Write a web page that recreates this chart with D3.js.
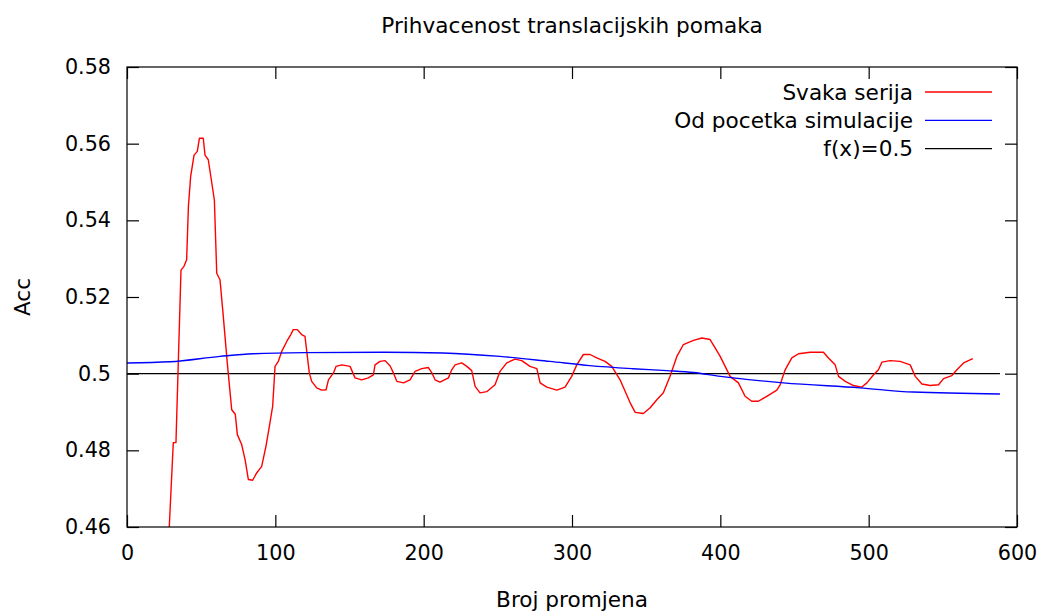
<!DOCTYPE html>
<html><head><meta charset="utf-8">
<script src="https://cdn.jsdelivr.net/npm/d3@7"></script>
<style>
body{margin:0;background:#fff;}
text{font-family:"DejaVu Sans",sans-serif;fill:#000;}
</style></head>
<body><svg id="c" width="1042" height="612"></svg>
<script>
const title = "Prihvacenost translacijskih pomaka";
const xLabel = "Broj promjena";
const yLabel = "Acc";
const xTicks = [0,100,200,300,400,500,600];
const yTicks = [0.46,0.48,0.5,0.52,0.54,0.56,0.58];
const legendNames = ["Svaka serija","Od pocetka simulacije","f(x)=0.5"];

const redX = [28.5,31.2,33,36.4,38.4,40.2,41.4,42.9,45.2,47.4,48.8,51.4,52.6,54.8,58.9,60.5,62.7,64.9,67.6,70.6,73,74.4,77.3,79.6,81.8,84.7,87.4,90.8,93.7,96,98.2,99.8,102,104.3,107.7,110.4,112.1,114.8,117.7,120,122.9,124.5,127.9,131.3,134.2,135.8,139.2,140.9,144.7,150.4,153.7,158.2,162.7,166.1,167.2,170.6,174,177.4,179.6,181.9,186.4,190.8,194.2,198.7,203.2,205.4,207.7,211,216.7,218.9,221.2,225.7,229.1,232.4,234.7,238,242.5,248.1,251.5,256,261.6,266.1,271.7,276.3,278.5,283,289.8,295.3,299.8,303.2,307.7,312.2,316.7,322.3,326.8,332.4,339.2,342.6,348.1,352.7,357.2,361.6,366.1,370.7,375.1,381.9,387.5,393.1,396.5,399.9,406.6,412.2,416.7,421.2,425.7,431.3,438.1,440.3,443.7,448.2,452.7,460.6,469.5,472.9,477.4,479.7,484.2,489.8,495.4,498.8,503.3,506.6,508.9,514.5,521.2,528,531.4,535.9,541.5,547.1,550.5,556.1,559.5,564,570.2];
const redY = [0.46,0.482,0.482,0.527,0.528,0.5297,0.5436,0.5514,0.557,0.558,0.5614,0.5614,0.557,0.5558,0.5453,0.5262,0.5245,0.515,0.5028,0.4906,0.4894,0.4841,0.4815,0.4776,0.4724,0.4722,0.4741,0.4758,0.4811,0.4863,0.4915,0.5019,0.5032,0.5058,0.5084,0.5102,0.5115,0.5115,0.5102,0.5097,0.5002,0.498,0.4963,0.4957,0.4958,0.4984,0.5002,0.5019,0.5023,0.5019,0.4989,0.4984,0.4989,0.4997,0.5023,0.5032,0.5034,0.502,0.5002,0.498,0.4976,0.4984,0.5006,0.5013,0.5016,0.5003,0.4984,0.4978,0.4989,0.501,0.5023,0.5028,0.5019,0.5008,0.4967,0.495,0.4953,0.4971,0.5006,0.5028,0.5038,0.5034,0.5019,0.5013,0.4976,0.4965,0.4957,0.4965,0.4993,0.5023,0.505,0.505,0.5041,0.5032,0.5019,0.4984,0.4924,0.4899,0.4896,0.4911,0.4932,0.495,0.4993,0.5045,0.5076,0.5087,0.5093,0.5089,0.5067,0.5045,0.4993,0.4976,0.4941,0.4928,0.4928,0.4941,0.4957,0.4971,0.501,0.5041,0.5052,0.5056,0.5056,0.5041,0.5023,0.4993,0.498,0.4969,0.4965,0.4976,0.4997,0.501,0.503,0.5034,0.5032,0.5023,0.4993,0.4973,0.4969,0.4971,0.4987,0.4995,0.501,0.5028,0.5039];

const blueX = [0,29,62.7,85,120,174,213,251.5,285,312,341,364,382,400,408.8,442.5,494,530,588.5];
const blueY = [0.5028,0.5031,0.5045,0.5052,0.5055,0.5056,0.5054,0.5045,0.5032,0.5021,0.5013,0.5008,0.5003,0.4993,0.4989,0.4976,0.4963,0.4952,0.4947];

const constX = [0,588.5];
const constY = [0.5,0.5];

const svg = d3.select("#c");
const L=127,T=67,W=890,H=460;
const x = d3.scaleLinear().domain([0,600]).range([L,L+W]);
const y = d3.scaleLinear().domain([0.46,0.58]).range([T+H,T]);
const tickLen = 12;
const fsTick = 20.7, fsText = 21.6;

svg.append("defs").append("clipPath").attr("id","clip")
  .append("rect").attr("x",L).attr("y",T).attr("width",W).attr("height",H);

const fmtY = d => String(+d.toFixed(2));
const axB = svg.append("g").attr("transform",`translate(0,${T+H})`)
  .call(d3.axisBottom(x).tickValues(xTicks).tickSizeInner(-tickLen).tickSizeOuter(0).tickPadding(18).tickFormat(d3.format("d")));
const axT = svg.append("g").attr("transform",`translate(0,${T})`)
  .call(d3.axisTop(x).tickValues(xTicks).tickSizeInner(-tickLen).tickSizeOuter(0).tickFormat(""));
const axL = svg.append("g").attr("transform",`translate(${L},0)`)
  .call(d3.axisLeft(y).tickValues(yTicks).tickSizeInner(-tickLen).tickSizeOuter(0).tickPadding(16).tickFormat(fmtY));
const axR = svg.append("g").attr("transform",`translate(${L+W},0)`)
  .call(d3.axisRight(y).tickValues(yTicks).tickSizeInner(-tickLen).tickSizeOuter(0).tickFormat(""));
[axB,axT,axL,axR].forEach(a=>{
  a.select(".domain").remove();
  a.selectAll("line").attr("stroke","#000").attr("stroke-width",1.2);
  a.selectAll("text").attr("font-size",fsTick).attr("font-family","DejaVu Sans").attr("fill","#000");
});
axB.selectAll("text").attr("dy","0.71em");

const leg = svg.append("g");
const legColors = ["#ff0000","#0000ff","#000000"];
legendNames.forEach((n,i)=>{
  const yy = 92 + i*28.3;
  leg.append("text").attr("x",913).attr("y",yy).attr("dy","0.35em").attr("text-anchor","end").attr("font-size",fsText).text(n);
  leg.append("line").attr("x1",925).attr("x2",992).attr("y1",yy).attr("y2",yy)
    .attr("stroke",legColors[i]).attr("stroke-width",1.3);
});

const line = d3.line().x(d=>x(d[0])).y(d=>y(d[1]));
const g = svg.append("g").attr("clip-path","url(#clip)");
g.append("path").datum(constX.map((v,i)=>[v,constY[i]])).attr("d",line)
  .attr("fill","none").attr("stroke","#000").attr("stroke-width",1.3);
g.append("path").datum(redX.map((v,i)=>[v,redY[i]])).attr("d",line)
  .attr("fill","none").attr("stroke","#ff0000").attr("stroke-width",1.4).attr("stroke-linejoin","round");
g.append("path").datum(blueX.map((v,i)=>[v,blueY[i]])).attr("d",line.curve(d3.curveMonotoneX))
  .attr("fill","none").attr("stroke","#0000ff").attr("stroke-width",1.4);

svg.append("rect").attr("x",L).attr("y",T).attr("width",W).attr("height",H)
  .attr("fill","none").attr("stroke","#000").attr("stroke-width",1.2);

svg.append("text").attr("x",572).attr("y",25).attr("dy","0.35em").attr("text-anchor","middle").attr("font-size",fsText).text(title);
svg.append("text").attr("x",572).attr("y",599).attr("dy","0.35em").attr("text-anchor","middle").attr("font-size",fsText).text(xLabel);
svg.append("text").attr("transform","translate(22,297) rotate(-90)").attr("dy","0.35em").attr("text-anchor","middle").attr("font-size",fsText).text(yLabel);
</script></body></html>
